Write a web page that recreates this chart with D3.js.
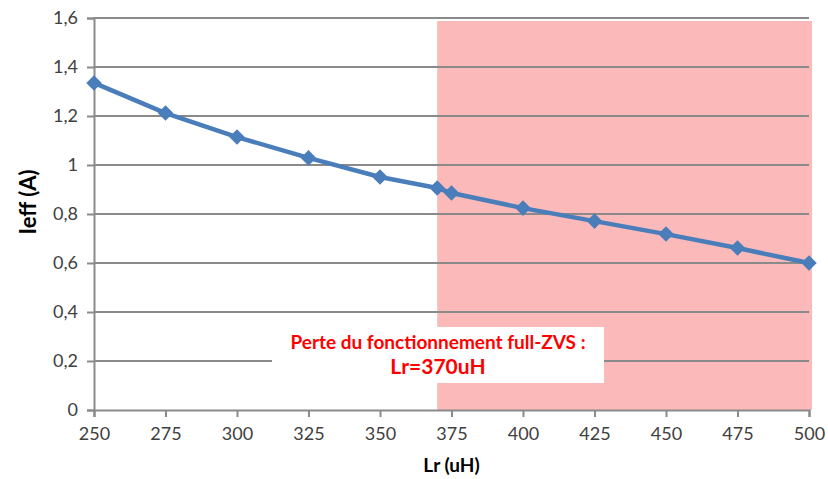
<!DOCTYPE html>
<html>
<head>
<meta charset="utf-8">
<script src="https://cdn.jsdelivr.net/npm/d3@7"></script>
<style>
  body { margin: 0; background: #fff; }
  svg text { font-family: Lato, "Open Sans", sans-serif; }
</style>
</head>
<body>
<svg id="chart" width="828" height="479"></svg>
<script>
// Inductance Lr (uH) and RMS current Ieff (A)
const lrValues = [250, 275, 300, 325, 350, 370, 375, 400, 425, 450, 475, 500];
const ieffValues = [1.335, 1.212, 1.114, 1.029, 0.951, 0.906, 0.886, 0.824, 0.771, 0.718, 0.661, 0.600];
const xTicks = [250, 275, 300, 325, 350, 375, 400, 425, 450, 475, 500];
const yTicks = [0, 0.2, 0.4, 0.6, 0.8, 1, 1.2, 1.4, 1.6];
// Zone where full-ZVS operation is lost
const zvsLimit = [370, 500];
const noteLines = ["Perte du fonctionnement full-ZVS :", "Lr=370uH"];

const svg = d3.select("#chart");
const x = d3.scaleLinear().domain([250, 500]).range([94, 809]);
const y = d3.scaleLinear().domain([0, 1.6]).range([410, 18]);
const fmt = d => String(d).replace(".", ",");

// Shaded region
svg.append("rect")
  .attr("x", x(zvsLimit[0]))
  .attr("y", y(1.6) + 3)
  .attr("width", x(zvsLimit[1]) - x(zvsLimit[0]) + 3)
  .attr("height", y(0) - y(1.6) - 3)
  .attr("fill", "#fbb9b9");

// Horizontal gridlines
svg.append("g").selectAll("line").data(yTicks.slice(1)).join("line")
  .attr("x1", x(250)).attr("x2", x(500))
  .attr("y1", d => y(d)).attr("y2", d => y(d))
  .attr("stroke", "#8a8a8a").attr("stroke-width", 2);

// Y axis
const yAxis = svg.append("g").attr("transform", `translate(${x(250)},0)`)
  .call(d3.axisLeft(y).tickValues(yTicks).tickFormat(fmt).tickSize(7).tickPadding(9));
yAxis.select(".domain").attr("stroke", "#8a8a8a").attr("stroke-width", 2);
yAxis.selectAll(".tick line").attr("stroke", "#8a8a8a").attr("stroke-width", 2);
yAxis.selectAll(".tick text").attr("font-size", 18).attr("fill", "#404040");

// X axis
const xAxis = svg.append("g").attr("transform", `translate(0,${y(0)})`)
  .call(d3.axisBottom(x).tickValues(xTicks).tickSize(7).tickPadding(10));
xAxis.select(".domain").attr("stroke", "#8a8a8a").attr("stroke-width", 2);
xAxis.selectAll(".tick line").attr("stroke", "#8a8a8a").attr("stroke-width", 2);
xAxis.selectAll(".tick text").attr("font-size", 18).attr("fill", "#404040");

// Axis titles
svg.append("text")
  .attr("transform", "translate(36,202) rotate(-90)")
  .attr("text-anchor", "middle")
  .attr("font-size", 22).attr("font-weight", "bold").attr("fill", "#000")
  .text("Ieff (A)");
svg.append("text")
  .attr("x", (x(250) + x(500)) / 2).attr("y", 472)
  .attr("text-anchor", "middle")
  .attr("font-size", 19).attr("font-weight", "bold").attr("fill", "#000")
  .text("Lr (uH)");

// Series line
const pts = lrValues.map((v, i) => [v, ieffValues[i]]);
svg.append("path").datum(pts)
  .attr("d", d3.line().x(d => x(d[0])).y(d => y(d[1])))
  .attr("fill", "none").attr("stroke", "#4a7ebb").attr("stroke-width", 4.5)
  .attr("stroke-linejoin", "round");

// Diamond markers
svg.append("g").selectAll("path").data(pts).join("path")
  .attr("transform", d => `translate(${x(d[0])},${y(d[1])}) rotate(45)`)
  .attr("d", "M-5.5,-5.5H5.5V5.5H-5.5Z")
  .attr("fill", "#4a7ebb");

// Annotation box
const note = svg.append("g");
note.append("rect")
  .attr("x", 272).attr("y", 327).attr("width", 332).attr("height", 56)
  .attr("fill", "#fff");
note.append("text")
  .attr("x", 438).attr("y", 349).attr("text-anchor", "middle")
  .attr("font-size", 19).attr("font-weight", "bold").attr("fill", "#ff0000")
  .text(noteLines[0]);
note.append("text")
  .attr("x", 438).attr("y", 374).attr("text-anchor", "middle")
  .attr("font-size", 21).attr("font-weight", "bold").attr("fill", "#ff0000")
  .text(noteLines[1]);
</script>
</body>
</html>
